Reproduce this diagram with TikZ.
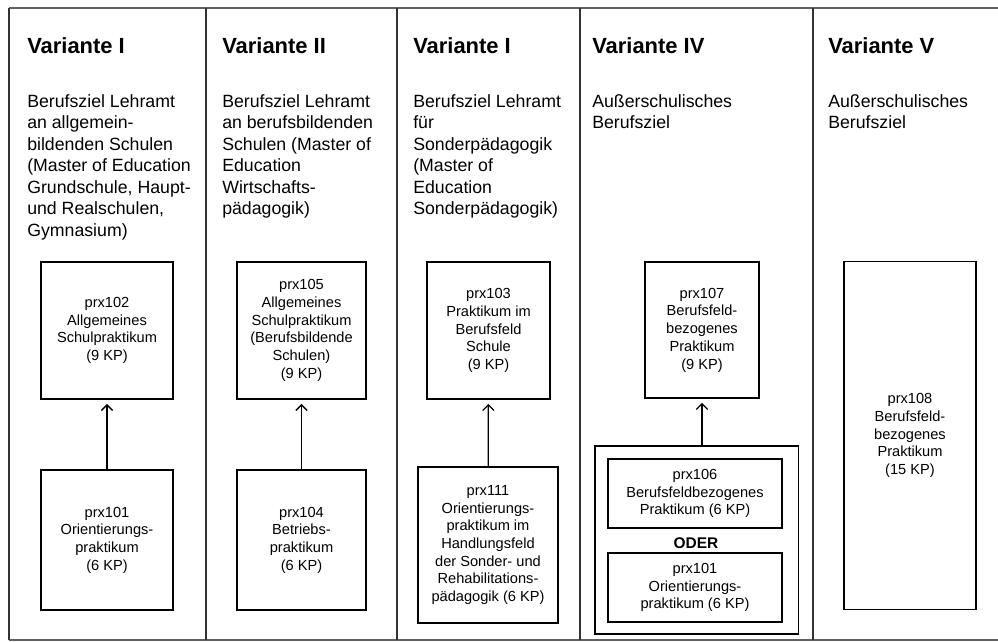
\documentclass[tikz,border=0pt]{standalone}
\usepackage{fontspec}
\setmainfont{Liberation Sans}
\usepackage{tikz}
\usetikzlibrary{arrows.meta}
\tikzset{
  title/.style = {anchor=north west, inner sep=0pt, font=\fontsize{15.6}{18}\selectfont\bfseries},
  goal/.style = {anchor=north west, inner sep=0pt, align=left, font=\fontsize{12.6}{15.3}\selectfont},
  prx/.style = {draw, line width=0.9pt, align=center, inner sep=2pt, font=\fontsize{10.4}{12.6}\selectfont},
  frame/.style = {line width=1.4pt, gray!75!black},
  link/.style = {-{Straight Barb[length=4pt,width=8pt,line width=0.9pt]}, line width=0.9pt, shorten >=3pt}
}

\begin{document}
\begin{tikzpicture}[x=0.025cm, y=-0.025cm]

  \useasboundingbox (0,0) rectangle (998,642);

  % frame and columns
  \draw[frame] (9,8) -- (998,8);
  \draw[frame] (9,640) -- (998,640);
  \foreach \xx in {9,206,397,580,813}
    \draw[line width=1.1pt, black!80] (\xx,8) -- (\xx,640);

  % headings
  \node[title] (t1) at (27,37) {Variante I};
  \node[title] (t2) at (222,37) {Variante II};
  \node[title] (t3) at (413,37) {Variante I};
  \node[title] (t4) at (592,37) {Variante IV};
  \node[title] (t5) at (828,37) {Variante V};

  \node[goal] (g1) at (27,94) {Berufsziel Lehramt\\an allgemein-\\bildenden Schulen\\(Master of Education\\Grundschule, Haupt-\\und Realschulen,\\Gymnasium)};
  \node[goal] (g2) at (222,94) {Berufsziel Lehramt\\an berufsbildenden\\Schulen (Master of\\Education\\Wirtschafts-\\pädagogik)};
  \node[goal] (g3) at (413,94) {Berufsziel Lehramt\\für\\Sonderpädagogik\\(Master of\\Education\\Sonderpädagogik)};
  \node[goal] (g4) at (592,94) {Außerschulisches\\Berufsziel};
  \node[goal] (g5) at (828,94) {Außerschulisches\\Berufsziel};

  % Variante I
  \node[prx, minimum width=3.3cm, minimum height=3.43cm] (prx102) at (107,330.5) {prx102\\Allgemeines\\Schulpraktikum\\(9 KP)};
  \node[prx, minimum width=3.3cm, minimum height=3.5cm] (prx101a) at (107,540) {prx101\\Orientierungs-\\praktikum\\(6 KP)};
  \draw[link] (prx101a) -- (prx102);

  % Variante II
  \node[prx, minimum width=3.23cm, minimum height=3.43cm] (prx105) at (301.5,330.5) {prx105\\Allgemeines\\Schulpraktikum\\(Berufsbildende\\Schulen)\\(9 KP)};
  \node[prx, minimum width=3.23cm, minimum height=3.5cm] (prx104) at (301.5,540) {prx104\\Betriebs-\\praktikum\\(6 KP)};
  \draw[link] (prx104) -- (prx105);

  % Variante III
  \node[prx, minimum width=3.08cm, minimum height=3.43cm] (prx103) at (488.5,330.5) {prx103\\Praktikum im\\Berufsfeld\\Schule\\(9 KP)};
  \node[prx, minimum width=3.5cm, minimum height=3.9cm] (prx111) at (488,545) {prx111\\Orientierungs-\\praktikum im\\Handlungsfeld\\der Sonder- und\\Rehabilitations-\\pädagogik (6 KP)};
  \draw[link] (prx111) -- (prx103);

  % Variante IV
  \node[prx, minimum width=2.85cm, minimum height=3.4cm] (prx107) at (702,330) {prx107\\Berufsfeld-\\bezogenes\\Praktikum\\(9 KP)};
  \node[draw, line width=0.9pt, minimum width=5.08cm, minimum height=4.7cm] (oder) at (696.5,540) {};
  \node[prx, minimum width=4.35cm, minimum height=1.73cm] (prx106) at (695,493.5) {prx106\\Berufsfeldbezogenes\\Praktikum (6 KP)};
  \node[font=\fontsize{11}{13}\selectfont\bfseries] (or) at (696,543) {ODER};
  \node[prx, minimum width=4.35cm, minimum height=1.73cm] (prx101b) at (695,587.5) {prx101\\Orientierungs-\\praktikum (6 KP)};
  \draw[link] (prx107 |- oder.north) -- (prx107);

  % Variante V
  \node[prx, minimum width=3.3cm, minimum height=8.68cm] (prx108) at (910,435.5) {prx108\\Berufsfeld-\\bezogenes\\Praktikum\\(15 KP)};

\end{tikzpicture}
\end{document}
